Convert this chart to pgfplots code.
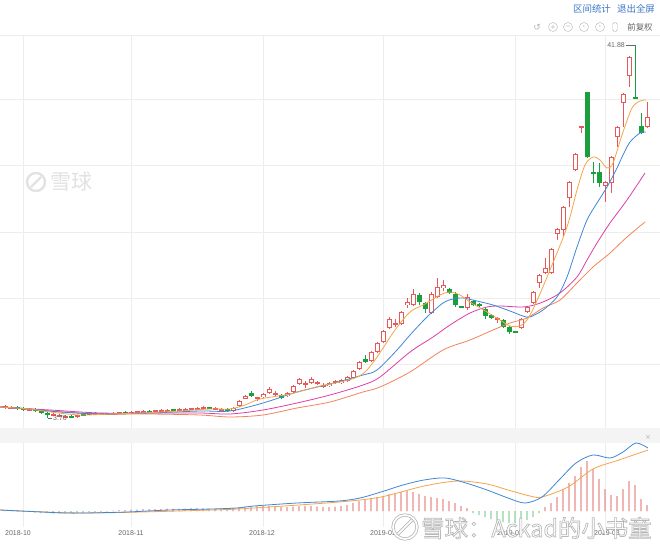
\documentclass[border=0pt]{standalone}
\usepackage{pgfplots}
\pgfplotsset{compat=1.18}
\usepackage{pgfplotstable}
\usepackage{fontspec}
\setmainfont{Liberation Sans}
\newfontfamily\cjk{Noto Sans CJK SC}
\newfontfamily\dejavu{DejaVu Sans}
\definecolor{upc}{HTML}{E5595A}
\definecolor{dnc}{HTML}{1B9E3E}
\definecolor{gridc}{HTML}{EDEDED}
\definecolor{bandc}{HTML}{F4F4F4}
\definecolor{maA}{HTML}{F5A54A}
\definecolor{maB}{HTML}{3F87D9}
\definecolor{maC}{HTML}{DF3DA8}
\definecolor{maD}{HTML}{F2845C}
\definecolor{hpos}{HTML}{E9908E}
\definecolor{hneg}{HTML}{8FD3A0}
\definecolor{labc}{HTML}{666666}
\definecolor{linkc}{HTML}{3C78C8}
\definecolor{iconc}{HTML}{B5B5B5}
\definecolor{wmc}{HTML}{E2E2E2}
\definecolor{wmo}{HTML}{B8B8B8}

% candles: k = trading-day index, t/b = body top/bottom, h/l = high/low (chart units, downward)
\pgfplotstableread{
k t b h l
0 406 407.5 405 409
1 407 408 406 409
4 409 410 408 411
8 414 415 413 416
9 415 416.5 414 417
10 416 417 415 418
12 415.5 416.5 415 417.5
15 413 414 412 415
16 413.5 414.5 413 415
18 413 414 412 415
19 412.5 413.5 412 414
21 412 413 411 414
22 411.5 412.5 411 413
23 411 412 410 413
25 410.5 411.5 410 412
26 410 411 409 412
27 410 411 409 412
29 409 410 408 411
30 409 410 408 411
31 408.5 409.5 408 410
32 408 409 407 410
33 407 408 406 409
35 408 409 407 410
36 409 410.5 408 411
38 407.5 411 407 411.5
39 401 406 400 407
40 396 398.5 395 399
42 397.5 398.5 397 401
43 394 397 393 398
44 389 393 387 394
45 393.5 394.5 391 397
47 393 396 392 397
48 386 392 385 393
49 379 384 378 385
50 383.5 384.5 381 388
51 379 383 377 384
52 382.5 383.5 381 385
53 385 387 383 388
54 383 386 382 387
55 381.5 382.5 380 384
56 380 383 379 384
57 377 381 376 382
58 371 378 370 379
59 362 369 361 370
61 352 361 351 362
62 343 352 342 353
63 331 342 330 343
64 319 328 317 329
65 323.5 324.5 319 327
66 312 324 311 325
67 302 305 298 308
68 294 305 289 306
71 294 313 292 314
72 287 297 278 298
73 285 288 280 291
77 297 308 294 310
82 318.5 319.5 317 323
86 319 328 318 329
87 307 312 306 313
88 292 303 291 304
89 275 283 274 288
90 268 273 258 274
91 249 273 248 274
92 229 234 228 240
93 207 230 206 237
94 182 198 181 207
95 154 170 153 171
96 126 128 126 133
100 182 186 181 202
101 157 183 156 193
102 127 137 126 147
103 94 103 93 127
104 57 76 56 87
107 117 127 102 128
}\upT

\pgfplotstableread{
k t b h l
2 407 409 406 410
3 408 410 407 411
5 409 411 408 412
6 411 413 410 414
7 413 414.5 412 418
11 416 417 415 418
13 414 415.5 413 416
14 413 414 412 415
17 413.5 414.5 413 415
20 412 413.5 411 414
24 411 412 410 413
28 409.5 410.5 409 411
34 407.5 408.5 407 409
37 409 411 408 412
41 393 396 391 397
46 395 398 394 399
60 359 362 355 363
69 295 302 293 305
70 303 309 302 313
74 289 293 288 294
75 294 305 292 307
76 306.5 307.5 306 308
78 301 305 300 306
79 304.5 305.5 303 307
80 309 316 307 319
81 315 318 314 319
83 320 327 319 328
84 327 332 326 334
85 331.5 332.5 331 333
97 92 157 92 158
98 172.5 173.5 162 183
99 172 183 163 187
105 97 99 45 99
106 126 133 113 134
}\dnT

\pgfplotstableread{
x y
0 407
30 409
50 412
80 415
110 414
140 413
180 411
210 409
230 409
245 405
260 399
290 394
320 386
340 382
355 378
365 372
375 360
385 345
395 330
410 312
425 304
440 295
450 292
460 295
470 302
487 312
500 320
510 326
520 326
527 320
535 305
550 270
567 227
577 190
585 165
593 157
600 160
607 168
613 163
622 135
632 108
640 101
646 100
}\maFive

\pgfplotstableread{
x y
0 407
30 409
60 412
100 414
150 413
200 411
230 411
263 403
297 392
330 384
363 375
377 370
397 350
410 335
427 317
443 303
453 299
463 298
477 301
493 305
510 311
523 316
530 317
543 310
557 297
567 277
577 247
587 220
597 203
607 187
617 168
623 155
630 142
640 133
646 132
}\maTen

\pgfplotstableread{
x y
0 407
50 410
100 413
150 413
200 413
230 414
263 410
297 403
330 395
363 385
380 377
410 352
433 337
450 325
470 313
487 307
500 306
520 307
530 306
543 302
560 293
577 277
587 260
597 243
610 223
627 200
645 173
}\maTwenty

\pgfplotstableread{
x y
0 407
50 411
100 414
150 414
200 415
230 417
263 415
297 408
330 402
363 392
380 387
410 372
443 350
470 340
493 330
510 323
527 318
543 308
560 300
577 283
593 267
610 253
627 237
645 222
}\maThirty

% MACD (chart units, upward from zero line)
\pgfplotstableread{
x y
0 1
42 -1
64 -2
85 -2
127 -1
169 1
212 2
237 3
254 5
297 8
339 10
360 13
381 19
403 26
424 31
445 33
466 28
487 21
508 13
525 8
542 14
559 31
576 48
593 56
610 53
623 59
636 68
648 63
}\dif

\pgfplotstableread{
x y
0 1
85 -2
212 1
254 3
339 9
381 14
424 25
458 30
487 27
508 21
530 15
542 14
568 24
593 42
619 51
648 61
}\dea

\pgfplotstableread{
k v
0 0.5
1 0.5
2 -0.5
3 -1
4 -1
5 -1.5
6 -2
7 -2
8 -2.5
9 -2.5
10 -2.5
11 -2.5
12 -2
13 -2
14 -1.5
15 -1
16 -1
17 -0.5
18 0.5
19 1
20 1
21 1.5
22 1.5
23 2
24 2
25 2
26 2
27 2.5
28 2.5
29 2.5
30 2.5
31 3
32 3
33 3
34 2.5
35 2.5
36 3
37 3
38 3.5
39 4
40 4.5
41 5
42 5
43 5
44 5
45 4.5
46 4
47 4
48 4.5
49 5
50 5
51 5
52 4.5
53 4
54 4
55 4.5
56 5
57 6
58 8
59 10
60 12
61 13
62 14
63 15
64 17
65 18
66 19
67 20
68 19
69 17
70 15
71 14
72 13
73 12
74 10
75 8
76 5
77 3
78 -2
79 -4
80 -6
81 -8
82 -10
83 -11
84 -12
85 -12
86 -11
87 -9
88 -6
89 -2
90 4
91 8
92 14
93 22
94 28
95 35
96 44
97 50
98 42
99 32
100 22
101 16
102 15
103 22
104 30
105 26
106 12
107 6
}\hist

\begin{document}
\begin{tikzpicture}
\useasboundingbox (0,0) rectangle (660bp,545bp);
\fill[white] (0,0) rectangle (660bp,545bp);
\fill[bandc] (0bp,102bp) rectangle (660bp,117bp);
\draw[gridc, line width=0.6bp] (0bp,510bp) -- (660bp,510bp);

% top-left watermark
\draw[wmc, line width=2.4bp] (36bp,363bp) circle (9bp);
\draw[wmc, line width=2.4bp] (31bp,358bp) -- (41bp,368bp);
\node[anchor=west, text=wmc, inner sep=0pt, font=\cjk\fontsize{21}{21}\selectfont] at (50bp,363bp) {雪球};

% toolbar
\node[text=linkc, inner sep=0pt, font=\cjk\fontsize{9.5}{10}\selectfont] at (592bp,536bp) {区间统计};
\node[text=linkc, inner sep=0pt, font=\cjk\fontsize{9.5}{10}\selectfont] at (636bp,536bp) {退出全屏};
\node[text=iconc, inner sep=0pt, font=\dejavu\fontsize{9}{9}\selectfont] at (537bp,518bp) {↺};
\node[circle, draw=iconc, text=iconc, inner sep=0pt, minimum size=9bp, font=\dejavu\fontsize{6.5}{6.5}\selectfont] at (553bp,518bp) {+};
\node[circle, draw=iconc, text=iconc, inner sep=0pt, minimum size=9bp, font=\dejavu\fontsize{6.5}{6.5}\selectfont] at (568bp,518bp) {−};
\node[circle, draw=iconc, text=iconc, inner sep=0pt, minimum size=9bp, font=\dejavu\fontsize{6.5}{6.5}\selectfont] at (584bp,518bp) {‹};
\node[circle, draw=iconc, text=iconc, inner sep=0pt, minimum size=9bp, font=\dejavu\fontsize{6.5}{6.5}\selectfont] at (600bp,518bp) {›};
\node[draw=iconc, rounded corners=1.5bp, inner sep=0pt, minimum width=4.5bp, minimum height=9bp] at (615bp,518bp) {};
\node[text=labc, inner sep=0pt, font=\cjk\fontsize{8.5}{9}\selectfont] at (640bp,518bp) {前复权};
\node[text=iconc, inner sep=0pt, font=\dejavu\fontsize{7}{7}\selectfont] at (648bp,108bp) {×};

\begin{axis}[at={(0bp,117bp)}, anchor=south west, scale only axis,
  width=660bp, height=393bp, xmin=0, xmax=660, ymin=35, ymax=428, y dir=reverse,
  axis line style={draw=none}, tick style={draw=none},
  xtick={23,131,263,383,515,605}, ytick={99,165,232,298,364},
  xticklabels={}, yticklabels={},
  grid=major, major grid style={gridc, line width=0.6bp}, clip=false]

% up candles: wick, body, hollow inside
\addplot[draw=none, mark=none, forget plot, error bars/.cd, y dir=both, y explicit, error mark=none,
  error bar style={draw=upc, line width=0.9bp}]
  table[x expr={5+6*\thisrow{k}}, y expr={(\thisrow{h}+\thisrow{l})/2}, y error expr={(\thisrow{l}-\thisrow{h})/2}] {\upT};
\addplot[draw=none, mark=none, forget plot, error bars/.cd, y dir=both, y explicit, error mark=none,
  error bar style={draw=upc, line width=5bp}]
  table[x expr={5+6*\thisrow{k}}, y expr={(\thisrow{t}+\thisrow{b})/2}, y error expr={max(abs(\thisrow{b}-\thisrow{t})/2,0.6)}] {\upT};
\addplot[draw=none, mark=none, forget plot, error bars/.cd, y dir=both, y explicit, error mark=none,
  error bar style={draw=white, line width=3bp}]
  table[x expr={5+6*\thisrow{k}}, y expr={(\thisrow{t}+\thisrow{b})/2}, y error expr={max(abs(\thisrow{b}-\thisrow{t})/2-1,0)}] {\upT};
% down candles
\addplot[draw=none, mark=none, forget plot, error bars/.cd, y dir=both, y explicit, error mark=none,
  error bar style={draw=dnc, line width=0.9bp}]
  table[x expr={5+6*\thisrow{k}}, y expr={(\thisrow{h}+\thisrow{l})/2}, y error expr={(\thisrow{l}-\thisrow{h})/2}] {\dnT};
\addplot[draw=none, mark=none, forget plot, error bars/.cd, y dir=both, y explicit, error mark=none,
  error bar style={draw=dnc, line width=5bp}]
  table[x expr={5+6*\thisrow{k}}, y expr={(\thisrow{t}+\thisrow{b})/2}, y error expr={max(abs(\thisrow{b}-\thisrow{t})/2,0.6)}] {\dnT};

% moving averages
\addplot[maD, line width=0.8bp, smooth, mark=none] table[x=x, y=y] {\maThirty};
\addplot[maC, line width=0.8bp, smooth, mark=none] table[x=x, y=y] {\maTwenty};
\addplot[maB, line width=0.8bp, smooth, mark=none] table[x=x, y=y] {\maTen};
\addplot[maA, line width=0.8bp, smooth, mark=none] table[x=x, y=y] {\maFive};

\draw[labc, line width=0.5bp] (axis cs:626,45) -- (axis cs:635,45);
\node[anchor=east, text=labc, inner sep=1pt, font=\fontsize{7}{7}\selectfont] at (axis cs:626,45) {41.88};
\draw[labc, line width=0.5bp] (axis cs:48,418) -- (axis cs:52,418);
\node[anchor=west, text=labc, inner sep=1pt, font=\fontsize{7}{7}\selectfont] at (axis cs:52,418) {3.70};
\end{axis}

\begin{axis}[at={(0bp,18bp)}, anchor=south west, scale only axis,
  width=660bp, height=84bp, xmin=0, xmax=660, ymin=-16, ymax=68,
  axis line style={draw=none}, tick style={draw=none}, ytick=\empty,
  xtick={18,131,262,383,510,607},
  xticklabels={2018-10,2018-11,2018-12,2019-01,2019-02,2019-03},
  xticklabel style={font=\fontsize{7}{7}\selectfont, text=labc, inner sep=0pt, yshift=-3bp},
  extra x ticks={23,131,263,383,515,605}, extra x tick labels={},
  extra x tick style={xmajorgrids=true, major grid style={gridc, line width=0.6bp}},
  clip=false]
\addplot[ybar, bar width=1.3bp, fill=hpos, draw=none, forget plot]
  table[x expr={5+6*\thisrow{k}}, y expr={\thisrow{v}>0 ? \thisrow{v} : 0}] {\hist};
\addplot[ybar, bar width=1.3bp, fill=hneg, draw=none, forget plot]
  table[x expr={5+6*\thisrow{k}}, y expr={\thisrow{v}<0 ? \thisrow{v} : 0}] {\hist};
\addplot[maA, line width=0.8bp, smooth, mark=none] table[x=x, y=y] {\dea};
\addplot[maB, line width=0.8bp, smooth, mark=none] table[x=x, y=y] {\dif};
\end{axis}

% bottom watermark: white text with grey outline (fill + stroke render mode)
\draw[wmo, line width=3.2bp] (405bp,18bp) circle (12bp);
\draw[white, line width=1.6bp] (405bp,18bp) circle (12bp);
\draw[wmo, line width=3.2bp] (398bp,11bp) -- (412bp,25bp);
\draw[white, line width=1.6bp] (398bp,11bp) -- (412bp,25bp);
\node[anchor=west, text=white, inner sep=0pt, font=\cjk\fontsize{23.5}{24}\selectfont]
  at (421bp,17bp) {\special{pdf:literal direct 2 Tr 0.7 w 0.72 0.72 0.72 RG}雪球：Ackad的小书童\special{pdf:literal direct 0 Tr}};
\end{tikzpicture}
\end{document}
